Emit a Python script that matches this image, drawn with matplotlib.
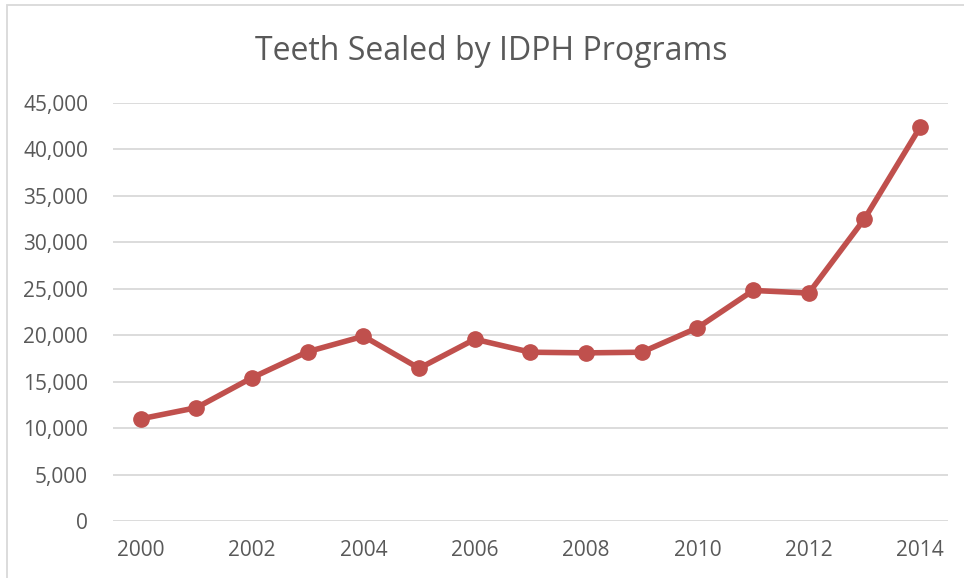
"""Teeth sealed by IDPH programs, 2000-2014 (line chart)."""

import matplotlib.pyplot as plt
from matplotlib.patches import Rectangle
from matplotlib.ticker import FuncFormatter, MultipleLocator

# Data
years = [2000, 2001, 2002, 2003, 2004, 2005, 2006, 2007,
         2008, 2009, 2010, 2011, 2012, 2013, 2014]
teeth_sealed = [11000, 12200, 15430, 18230, 19890, 16440, 19570, 18170,
                18100, 18170, 20800, 24820, 24540, 32530, 42410]
year_ticks = [2000, 2002, 2004, 2006, 2008, 2010, 2012, 2014]

W, H = 964, 578
TEXT = "#595959"
GRID = "#d9d9d9"
LINE = "#c0504d"

plt.rcParams["font.family"] = ["Open Sans", "DejaVu Sans"]

fig = plt.figure(figsize=(W / 100, H / 100), dpi=100)
ax = fig.add_axes([113 / W, 1 - 521 / H, (948 - 113) / W, (521 - 103) / H])

# Chart frame (only left and top edges are visible in the crop)
fig.patches.append(Rectangle((6.5 / W, -0.1), 1.2, 1 - 5.5 / H + 0.1,
                             transform=fig.transFigure, fill=False,
                             edgecolor=GRID, linewidth=1.3))

ax.plot(years, teeth_sealed, color=LINE, linewidth=4,
        marker="o", markersize=11, solid_capstyle="round", zorder=3)

ax.set_xlim(years[0] - 0.5, years[-1] + 0.5)
ax.set_ylim(0, 45000)
ax.yaxis.set_major_locator(MultipleLocator(5000))
ax.yaxis.set_major_formatter(FuncFormatter(lambda v, _: f"{v:,.0f}"))
ax.set_xticks(year_ticks)

ax.grid(axis="y", color=GRID, linewidth=1.3)
ax.set_axisbelow(True)
for side in ("top", "right", "left", "bottom"):
    ax.spines[side].set_visible(False)
ax.tick_params(axis="both", length=0, labelsize=15, labelcolor=TEXT)
ax.tick_params(axis="y", pad=18)
ax.tick_params(axis="x", pad=14)

fig.text(491 / W, 1 - 52 / H, "Teeth Sealed by IDPH Programs", ha="center",
         va="center", fontsize=23, color=TEXT)

fig.savefig("out.png", dpi=100)
